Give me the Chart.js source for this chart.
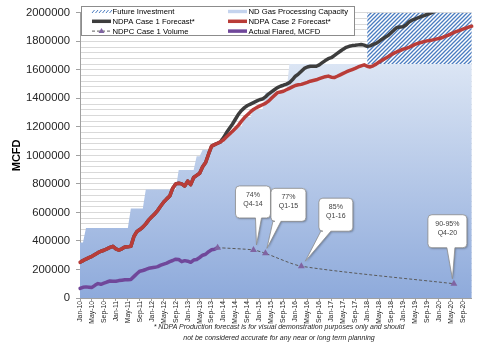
<!DOCTYPE html>
<html>
<head>
<meta charset="utf-8">
<script src="https://cdn.jsdelivr.net/npm/chart.js@4.4.1/dist/chart.umd.min.js"></script>
<style>
  html, body { margin: 0; padding: 0; background: #fff; }
  #wrap { position: relative; width: 480px; height: 344px; }
  #note {
    position: absolute; left: 79px; top: 321px; width: 400px;
    font: italic 7px "Liberation Sans", Arial, sans-serif; line-height: 11px;
    color: #262626; text-align: center; white-space: nowrap;
  }
</style>
</head>
<body>
<div id="wrap">
  <canvas id="chart" width="480" height="344"></canvas>
  <div id="note">* NDPA Production forecast is for visual demonstration purposes only and should<br>not be considered accurate for any near or long term planning</div>
</div>
<script>
// months Jan-10 .. Dec-20
const monthNames = ['Jan','Feb','Mar','Apr','May','Jun','Jul','Aug','Sep','Oct','Nov','Dec'];
const labels = [];
for (let yr = 10; yr <= 20; yr++) monthNames.forEach(m => labels.push(m + '-' + yr));

const yTickLabels = [0, 200000, 400000, 600000, 800000, 1000000, 1200000, 1400000, 1600000, 1800000, 2000000];

// NDPA Case 2 forecast (history + forecast), MCFD
const case2 = [250000,262000,273000,283000,292000,305000,318000,328000,335000,345000,
  355000,362000,345000,336000,345000,358000,360000,362000,430000,465000,
  480000,497000,520000,548000,570000,590000,615000,645000,673000,695000,
  715000,770000,800000,805000,800000,785000,820000,795000,845000,860000,
  875000,920000,950000,1010000,1065000,1075000,1085000,1095000,1110000,1130000,
  1150000,1170000,1190000,1212000,1240000,1265000,1285000,1305000,1322000,1335000,
  1345000,1355000,1365000,1380000,1400000,1420000,1440000,1445000,1450000,1460000,
  1470000,1480000,1490000,1495000,1498000,1505000,1512000,1520000,1525000,1530000,
  1538000,1545000,1552000,1556000,1548000,1546000,1555000,1565000,1575000,1585000,
  1594000,1602000,1610000,1620000,1628000,1635000,1625000,1620000,1628000,1640000,
  1655000,1668000,1680000,1692000,1705000,1717000,1727000,1735000,1745000,1750000,
  1758000,1768000,1778000,1785000,1792000,1798000,1803000,1806000,1810000,1815000,
  1820000,1825000,1835000,1842000,1852000,1862000,1870000,1877000,1885000,1893000,
  1900000,1906000];

// NDPA Case 1 forecast: same history as case 2 until Dec-13, then higher
const case1 = case2.slice(0, 48).concat([
  1125000,1160000,1190000,1220000,1255000,1290000,1315000,1335000,1350000,1360000,
  1370000,1380000,1390000,1395000,1410000,1430000,1445000,1460000,1475000,1485000,
  1492000,1500000,1510000,1530000,1555000,1570000,1590000,1610000,1620000,1625000,
  1625000,1625000,1635000,1650000,1665000,1678000,1685000,1700000,1715000,1730000,
  1745000,1758000,1765000,1770000,1772000,1775000,1778000,1773000,1765000,1768000,
  1778000,1785000,1800000,1815000,1828000,1840000,1860000,1880000,1897000,1900000,
  1902000,1915000,1935000,1948000,1955000,1965000,1973000,1980000,1988000,1996000,
  2005000,2015000,2025000,2035000]);

// Actual flared, MCFD (Jan-10 .. Nov-13)
const actualFlared = [67000,75000,78000,76000,74000,89000,101000,96000,104000,112000,
  119000,118000,117000,122000,125000,128000,128000,130000,150000,170000,
  188000,193000,200000,208000,212000,215000,220000,230000,238000,245000,
  255000,263000,272000,270000,255000,262000,258000,250000,266000,270000,
  284000,300000,307000,325000,338000,342000,353000];

// NDPC Case 1 volume (marker points)
const ndpcMonths = ['Nov-13', 'Nov-14', 'Mar-15', 'Mar-16', 'Jun-20'];
const ndpcValues = [353000, 337000, 313000, 223000, 100000];
const calloutMonths = ['Nov-14', 'Mar-15', 'Mar-16', 'Jun-20'];
const calloutText = [['74%', 'Q4-14'], ['77%', 'Q1-15'], ['85%', 'Q1-16'], ['90-95%', 'Q4-20']];

// ND gas processing capacity: level from each start month on
const capacityStart = ['Jan-10','Mar-10','Jun-11','Nov-11','Oct-12','Apr-13','Jun-13','Oct-13','Feb-14','May-14','Aug-14','Nov-14','Mar-15','Nov-15'];
const capacityLevel = [390000,490000,628000,760000,898000,994000,1040000,1090000,1150000,1200000,1270000,1320000,1441000,1640000];
// future investment stacked on top of capacity
const futureStart = 'Jan-18';
const futureAdded = 500000;

const capacity = labels.map((l, i) => {
  let v = null;
  capacityStart.forEach((s, k) => { if (labels.indexOf(s) <= i) v = capacityLevel[k]; });
  return v;
});
const futureTop = labels.map((l, i) => i >= labels.indexOf(futureStart) ? capacity[i] + futureAdded : null);
const ndpcData = labels.map(l => { const k = ndpcMonths.indexOf(l); return k < 0 ? null : ndpcValues[k]; });
const yGrid = [];
for (let v = 0; v <= 2000000; v += 40000) yGrid.push(v);

const FONT = '"Liberation Sans", Arial, sans-serif';
const C_CASE1 = '#3d3d3d', C_CASE2 = '#b93c38', C_ACTUAL = '#70479a', C_TRI = '#8064a2', C_HATCH = '#4a7cc0';

function makeHatch() {
  const t = document.createElement('canvas');
  t.width = 4; t.height = 4;
  const g = t.getContext('2d');
  g.fillStyle = '#ffffff'; g.fillRect(0, 0, 4, 4);
  g.strokeStyle = C_HATCH; g.lineWidth = 1.3;
  g.beginPath();
  g.moveTo(0, 4); g.lineTo(4, 0);
  g.moveTo(-1, 1); g.lineTo(1, -1);
  g.moveTo(3, 5); g.lineTo(5, 3);
  g.stroke();
  return g.createPattern(t, 'repeat');
}
const hatch = makeHatch();

function capacityFill(c) {
  const chart = c.chart;
  if (!chart.chartArea) return '#c5d4ee';
  const y = chart.scales.y;
  const g = chart.ctx.createLinearGradient(0, y.getPixelForValue(Math.max(...capacityLevel)), 0, chart.chartArea.bottom);
  g.addColorStop(0, '#dbe5f4');
  g.addColorStop(1, '#8eaadb');
  return g;
}

// callout box geometry relative to its marker: box offset, size, pointer base (from box left), tip offset
const calloutGeom = [
  { dx: -18, dy: -64, w: 35, h: 32, b0: 20, b1: 26, tx: 3, ty: -5 },
  { dx: 5.5, dy: -65, w: 35, h: 33, b0: 2, b1: 10, tx: 1.5, ty: -5 },
  { dx: 17.5, dy: -68, w: 34, h: 33, b0: 2, b1: 12, tx: 4, ty: -5 },
  { dx: -26, dy: -69, w: 39, h: 33, b0: 19, b1: 27, tx: -1.5, ty: -5 }
];

const calloutPlugin = {
  id: 'callouts',
  afterDatasetsDraw(chart) {
    const ctx = chart.ctx;
    const pts = chart.getDatasetMeta(0).data;
    calloutMonths.forEach((m, k) => {
      const p = pts[labels.indexOf(m)];
      const g = calloutGeom[k];
      const x = p.x + g.dx, y = p.y + g.dy, w = g.w, h = g.h, r = 4;
      ctx.save();
      ctx.beginPath();
      ctx.moveTo(x + r, y);
      ctx.lineTo(x + w - r, y);
      ctx.arcTo(x + w, y, x + w, y + r, r);
      ctx.lineTo(x + w, y + h - r);
      ctx.arcTo(x + w, y + h, x + w - r, y + h, r);
      ctx.lineTo(x + g.b1, y + h);
      ctx.lineTo(p.x + g.tx, p.y + g.ty);
      ctx.lineTo(x + g.b0, y + h);
      ctx.lineTo(x + r, y + h);
      ctx.arcTo(x, y + h, x, y + h - r, r);
      ctx.lineTo(x, y + r);
      ctx.arcTo(x, y, x + r, y, r);
      ctx.closePath();
      ctx.shadowColor = 'rgba(0,0,0,0.3)';
      ctx.shadowBlur = 2; ctx.shadowOffsetX = 1; ctx.shadowOffsetY = 1;
      ctx.fillStyle = '#ffffff';
      ctx.fill();
      ctx.shadowColor = 'transparent';
      ctx.strokeStyle = '#8c8c8c'; ctx.lineWidth = 0.8;
      ctx.stroke();
      ctx.fillStyle = '#404040';
      ctx.font = '7px ' + FONT;
      ctx.textAlign = 'center'; ctx.textBaseline = 'middle';
      ctx.fillText(calloutText[k][0], x + w / 2, y + 9);
      ctx.fillText(calloutText[k][1], x + w / 2, y + 18);
      ctx.restore();
    });
  }
};

const legendRows = [
  ['Future Investment', 'hatch'], ['ND Gas Processing Capacity', 'cap'],
  ['NDPA Case 1 Forecast*', 'case1'], ['NDPA Case 2 Forecast*', 'case2'],
  ['NDPC Case 1 Volume', 'ndpc'], ['Actual Flared, MCFD', 'actual']
];

const legendPlugin = {
  id: 'boxLegend',
  afterDraw(chart) {
    const ctx = chart.ctx;
    ctx.save();
    ctx.fillStyle = '#ffffff';
    ctx.fillRect(81.5, 6.5, 273, 29);
    ctx.strokeStyle = '#8c8c8c'; ctx.lineWidth = 1;
    ctx.strokeRect(81.5, 6.5, 273, 29);
    ctx.font = '7.7px ' + FONT;
    ctx.textBaseline = 'middle'; ctx.textAlign = 'left';
    legendRows.forEach(([text, kind], i) => {
      const col = i % 2, row = Math.floor(i / 2);
      const sx = col ? 228 : 92, y = 11.5 + row * 9.8;
      ctx.save();
      if (kind === 'hatch') {
        ctx.strokeStyle = C_HATCH; ctx.lineWidth = 1;
        ctx.beginPath();
        for (let x = sx; x < sx + 18; x += 3.5) { ctx.moveTo(x, y + 1.5); ctx.lineTo(x + 2.5, y - 1.5); }
        ctx.stroke();
      } else if (kind === 'cap') {
        ctx.fillStyle = '#c5d4ee';
        ctx.fillRect(sx, y - 1.7, 19, 3.4);
      } else if (kind === 'ndpc') {
        ctx.strokeStyle = '#595959'; ctx.lineWidth = 1; ctx.setLineDash([3, 2]);
        ctx.beginPath(); ctx.moveTo(sx, y); ctx.lineTo(sx + 19, y); ctx.stroke();
        ctx.setLineDash([]);
        ctx.fillStyle = C_TRI;
        ctx.beginPath(); ctx.moveTo(sx + 9.5, y - 3); ctx.lineTo(sx + 12.5, y + 2); ctx.lineTo(sx + 6.5, y + 2); ctx.closePath(); ctx.fill();
      } else {
        ctx.strokeStyle = kind === 'case1' ? C_CASE1 : kind === 'case2' ? C_CASE2 : C_ACTUAL;
        ctx.lineWidth = 3.5;
        ctx.beginPath(); ctx.moveTo(sx, y); ctx.lineTo(sx + 19, y); ctx.stroke();
      }
      ctx.restore();
      ctx.fillStyle = '#000000';
      ctx.fillText(text, sx + 20.5, y + 0.5);
    });
    ctx.restore();
  }
};

new Chart(document.getElementById('chart'), {
  type: 'line',
  data: {
    labels: labels,
    datasets: [
      { label: 'NDPC Case 1 Volume', data: ndpcData, borderColor: '#595959', borderWidth: 1, borderDash: [3, 2],
        pointStyle: 'triangle', pointRadius: 4, pointBackgroundColor: C_TRI, pointBorderColor: C_TRI, pointBorderWidth: 0,
        spanGaps: true, tension: 0.25, fill: false },
      { label: 'Actual Flared, MCFD', data: actualFlared, borderColor: C_ACTUAL, borderWidth: 3.5, pointRadius: 0, fill: false,
        borderJoinStyle: 'round', borderCapStyle: 'round' },
      { label: 'NDPA Case 2 Forecast*', data: case2, borderColor: C_CASE2, borderWidth: 3.5, pointRadius: 0, fill: false,
        borderJoinStyle: 'round', borderCapStyle: 'round' },
      { label: 'NDPA Case 1 Forecast*', data: case1, borderColor: C_CASE1, borderWidth: 3.5, pointRadius: 0, fill: false,
        borderJoinStyle: 'round', borderCapStyle: 'round', clip: 0 },
      { label: 'Future Investment', data: futureTop, backgroundColor: hatch, borderColor: 'rgba(0,0,0,0)', borderWidth: 1,
        pointRadius: 0, fill: 5, clip: 0 },
      { label: 'ND Gas Processing Capacity', data: capacity, backgroundColor: capacityFill, borderColor: 'rgba(0,0,0,0)',
        borderWidth: 1, pointRadius: 0, fill: 'origin' }
    ]
  },
  options: {
    responsive: false,
    animation: false,
    devicePixelRatio: 1,
    layout: { padding: { top: 7, right: 3, left: 0, bottom: 0 } },
    plugins: { legend: { display: false }, tooltip: { enabled: false } },
    scales: {
      x: {
        offset: false,
        afterFit: s => { s.height = 46; },
        grid: { drawOnChartArea: false, tickLength: 3, tickColor: c => c.index % 4 === 0 ? '#a0a0a0' : 'rgba(0,0,0,0)' },
        border: { color: '#a0a0a0' },
        ticks: {
          autoSkip: false, maxRotation: 90, minRotation: 90, padding: 0,
          font: { family: FONT, size: 6.8 }, color: '#262626',
          callback: function (v, i) { return i % 4 === 0 ? this.getLabelForValue(v) : ''; }
        }
      },
      y: {
        min: 0, max: 2000000,
        afterBuildTicks: s => { s.ticks = yGrid.map(v => ({ value: v })); },
        afterFit: s => { s.width = 80; },
        grid: { color: '#d9d9d9', tickLength: 4,
          tickColor: c => (c.tick && yTickLabels.includes(c.tick.value)) ? '#a0a0a0' : 'rgba(0,0,0,0)' },
        border: { color: '#a0a0a0' },
        ticks: { autoSkip: false, padding: 6, font: { family: FONT, size: 11.3 }, color: '#262626',
          callback: v => yTickLabels.includes(v) ? String(v) : '' },
        title: { display: true, text: 'MCFD', color: '#000', font: { family: FONT, size: 11, weight: 'bold' },
          padding: { top: 10, bottom: 0 } }
      }
    }
  },
  plugins: [calloutPlugin, legendPlugin]
});
</script>
</body>
</html>
